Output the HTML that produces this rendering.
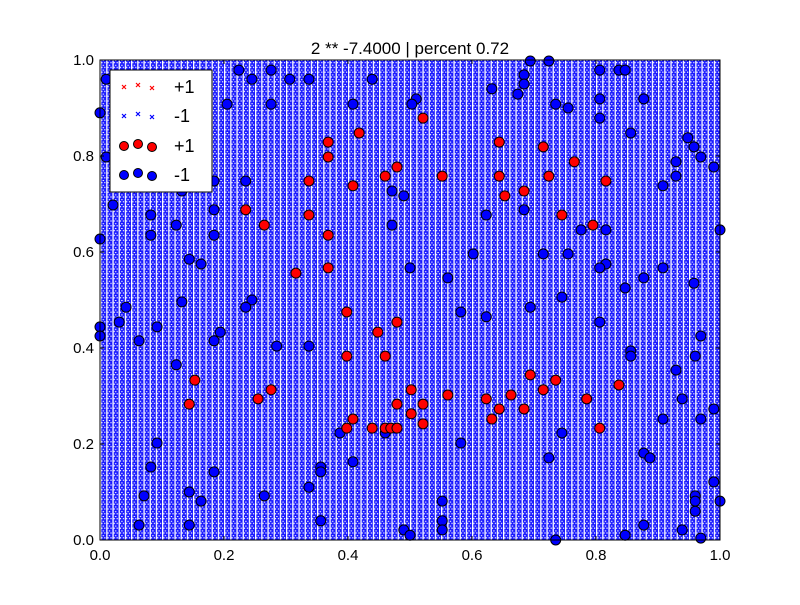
<!DOCTYPE html>
<html><head><meta charset="utf-8"><style>
body{margin:0;background:#fff;}
svg text{font-family:"Liberation Sans",sans-serif;}
</style></head><body>
<svg id="chart" width="800" height="600" viewBox="0 0 800 600">
<defs>
<pattern id="grid" x="100" y="60" width="6.2" height="4.8" patternUnits="userSpaceOnUse">
<rect width="6.2" height="4.8" fill="#1a1aff"/>
<rect x="0" y="0" width="1.3" height="4.8" fill="#fff"/>
<rect x="1.3" y="2" width="1.2" height="1.2" fill="#fff"/>
<rect x="4.2" y="2" width="1.2" height="1.2" fill="#fff"/>
<rect x="2.6" y="0" width="1.4" height="1" fill="#fff"/>
</pattern>
</defs>
<rect width="800" height="600" fill="#fff"/>
<rect x="100" y="60" width="620" height="480" fill="url(#grid)"/>
<g id="points"></g>
<rect x="100" y="60" width="620" height="480" fill="none" stroke="#000" stroke-width="1"/>
<g id="axes"></g>
<text x="410" y="54" font-size="17" text-anchor="middle">2 ** -7.4000 | percent 0.72</text>
<g>
<rect x="110" y="70" width="102" height="122" fill="#fff" stroke="#000" stroke-width="1"/>
<g stroke="#f00" stroke-width="1.2">
<path d="M122 85l4 4M126 85l-4 4M136 83l4 4M140 83l-4 4M150 86l4 4M154 86l-4 4"/>
</g>
<text x="174" y="93" font-size="18">+1</text>
<g stroke="#00f" stroke-width="1.2">
<path d="M122 114l4 4M126 114l-4 4M136 112l4 4M140 112l-4 4M150 115l4 4M154 115l-4 4"/>
</g>
<text x="174" y="122" font-size="18">-1</text>
<g fill="#f00" stroke="#000">
<circle cx="124" cy="146" r="4.5"/><circle cx="138" cy="144" r="4.5"/><circle cx="152" cy="147" r="4.5"/>
</g>
<text x="174" y="152" font-size="18">+1</text>
<g fill="#00f" stroke="#000">
<circle cx="124" cy="175" r="4.5"/><circle cx="138" cy="173" r="4.5"/><circle cx="152" cy="176" r="4.5"/>
</g>
<text x="174" y="181" font-size="18">-1</text>
</g>
</svg>
<script>
const xTicks=[0,0.2,0.4,0.6,0.8,1.0];
const yTicks=[0,0.2,0.4,0.6,0.8,1.0];
const xTickLabels=["0.0","0.2","0.4","0.6","0.8","1.0"];
const yTickLabels=["0.0","0.2","0.4","0.6","0.8","1.0"];
const redX=[.418,.368,.368,.337,.408,.479,.460,.235,.265,.337,.368,.368,.316,.521,.644,.715,.765,.552,.644,.724,.816,.684,.653,.745,.795,.398,.479,.448,.398,.460,.153,.276,.144,.255,.479,.408,.398,.439,.460,.469,.479,.502,.521,.502,.521,.561,.623,.644,.632,.663,.684,.694,.715,.735,.785,.806,.837];
const redY=[.848,.829,.798,.748,.738,.777,.758,.688,.656,.677,.635,.567,.556,.879,.829,.819,.788,.758,.758,.758,.748,.727,.717,.677,.656,.475,.454,.433,.383,.383,.333,.313,.283,.294,.283,.252,.233,.233,.233,.233,.233,.313,.283,.263,.242,.302,.294,.273,.252,.302,.273,.344,.313,.333,.294,.233,.323];
const blueX=[.010,.224,.245,.276,.306,.337,.439,.205,.276,.408,.000,.010,.184,.235,.132,.021,.082,.123,.184,.082,.184,.471,.471,.490,.000,.144,.163,.694,.724,.684,.684,.632,.674,.510,.503,.735,.755,.806,.837,.847,.806,.806,.877,.856,.948,.958,.969,.929,.990,.929,.908,.623,.684,.776,.816,1.0,.602,.715,.755,.500,.561,.816,.806,.908,.877,.847,.958,.745,.245,.042,.132,.235,.031,.092,.000,.000,.194,.063,.184,.285,.337,.123,.092,.082,.184,.356,.356,.408,.337,.071,.144,.163,.265,.063,.144,.356,.490,.387,.460,.582,.623,.694,.806,.969,.856,.856,.960,.929,.939,.990,.908,.969,.745,.582,.724,.877,.887,.990,.960,.960,1.0,.960,.552,.552,.552,.877,.939,.847,.735,.500,.969];
const blueY=[.960,.979,.960,.979,.960,.960,.960,.908,.908,.908,.890,.798,.748,.748,.727,.698,.677,.656,.688,.635,.635,.656,.727,.717,.627,.585,.575,.998,.998,.969,.950,.940,.929,.919,.908,.908,.900,.979,.979,.979,.919,.879,.919,.848,.838,.819,.798,.788,.777,.758,.738,.677,.688,.646,.646,.646,.596,.596,.596,.567,.546,.575,.567,.567,.546,.525,.535,.506,.500,.485,.496,.485,.454,.444,.444,.425,.433,.415,.415,.404,.404,.365,.202,.152,.142,.152,.142,.163,.110,.092,.100,.081,.092,.031,.031,.040,.021,.223,.223,.475,.465,.485,.454,.425,.394,.383,.383,.354,.294,.273,.252,.252,.223,.202,.171,.181,.171,.121,.092,.081,.081,.060,.081,.040,.021,.031,.021,.010,.000,.010,.004];
const NS="http://www.w3.org/2000/svg";
const L=100,R=720,T=60,B=540;
function sx(v){return L+v*(R-L);}
function sy(v){return B-v*(B-T);}
const pg=document.getElementById('points');
function dot(x,y,fill,name){
  const c=document.createElementNS(NS,'circle');
  c.setAttribute('cx',sx(x));c.setAttribute('cy',sy(y));c.setAttribute('r',5);
  c.setAttribute('fill',fill);c.setAttribute('stroke','#000');c.setAttribute('stroke-width',1);
  
  
  pg.appendChild(c);
}
for(let i=0;i<blueX.length;i++) dot(blueX[i],blueY[i],'#0000ff','point-neg');
for(let i=0;i<redX.length;i++) dot(redX[i],redY[i],'#ff0000','point-pos');
const ag=document.getElementById('axes');
function el(tag,attrs,txt){const e=document.createElementNS(NS,tag);for(const k in attrs)e.setAttribute(k,attrs[k]);if(txt!==undefined)e.textContent=txt;ag.appendChild(e);return e;}
xTicks.forEach((v,i)=>{
  const x=sx(v);
  const t1=el('line',{x1:x,x2:x,y1:B,y2:B-4,stroke:'#000'});
  
  
  const t2=el('line',{x1:x,x2:x,y1:T,y2:T+4,stroke:'#000'});
  
  
  const lb=el('text',{x:x,y:B+20,'font-size':15,'text-anchor':'middle'},xTickLabels[i]);
  
  
});
yTicks.forEach((v,i)=>{
  const y=sy(v);
  const t1=el('line',{x1:L,x2:L+4,y1:y,y2:y,stroke:'#000'});
  
  
  const t2=el('line',{x1:R,x2:R-4,y1:y,y2:y,stroke:'#000'});
  
  
  const lb=el('text',{x:L-6,y:y+5,'font-size':15,'text-anchor':'end'},yTickLabels[i]);
  
  
});
</script>
</body></html>
